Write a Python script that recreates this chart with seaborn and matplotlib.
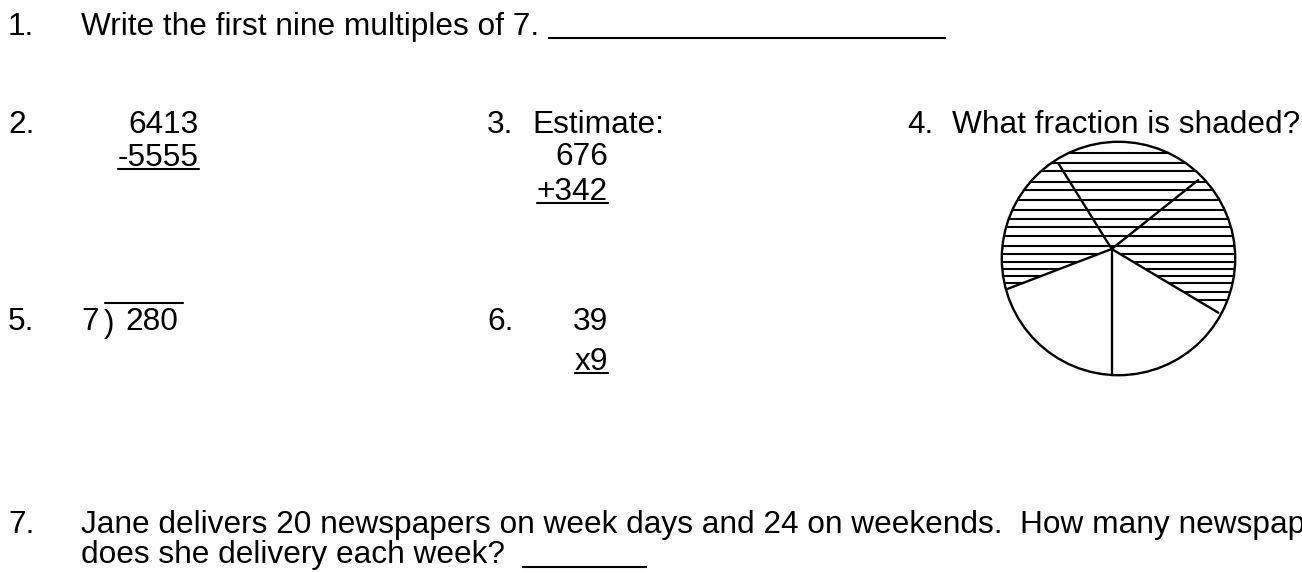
import numpy as np
import matplotlib.pyplot as plt
import seaborn as sns
from matplotlib.patches import Circle, Polygon

sns.set_theme(style="white")
plt.rcParams['font.family'] = ['Liberation Sans', 'DejaVu Sans']
plt.rcParams['text.color'] = 'black'

# page size in pixels (1 data unit = 1 px)
W, H = 1302, 572
FS = 22.8

# question numbers and where they sit (x, baseline)
q_nums = ["1.", "2.", "3.", "4.", "5.", "6.", "7."]
q_x = [8, 8, 487, 907, 8, 487, 8]
q_y = [35, 133, 133, 133, 330, 330, 533]

# plain prompt text
prompts = ["Write the first nine multiples of 7.", "Estimate:",
           "What fraction is shaded?",
           "Jane delivers 20 newspapers on week days and 24 on weekends.  How many newspapers",
           "does she delivery each week?"]
prompt_x = [81, 532, 952, 81, 81]
prompt_y = [35, 133, 133, 533, 563]

# answer blanks (x start, x end, y)
blank_x0 = [548, 522]
blank_x1 = [946, 647]
blank_y = [38, 567]

# column sums, right aligned; last row of each is underlined
sums = [["6413", "-5555"], ["676", "+342"], ["39", "x9"]]
sum_right = [199, 608, 608]
sum_base = [[133, 166], [165, 200], [330, 370]]

# long division 280 / 7
divisor, dividend = "7", "280"
div_x, bracket_x, dividend_x, div_y = 81, 104, 125, 330
bar_x0, bar_x1, bar_y = 105, 183, 303

# fraction circle
cx, cy, r = 1118.5, 258.5, 116.7
hub = (1111.7, 249.0)
spoke_ends = [(1058.3, 163.3), (1198.3, 180.0), (1218.3, 312.7), (1111.7, 375.0), (1007.3, 289.0)]
hatch_y = [153, 163, 171, 182, 190, 200, 210, 219, 227, 236, 246, 254, 262, 269, 276, 283, 292, 300]

fig = plt.figure(figsize=(W / 100, H / 100), dpi=100)
ax = fig.add_axes([0, 0, 1, 1])
ax.set_xlim(0, W)
ax.set_ylim(H, 0)
ax.axis('off')

for s, x, y in zip(q_nums, q_x, q_y):
    ax.text(x, y, s, fontsize=FS, va='baseline', ha='left')

for s, x, y in zip(prompts, prompt_x, prompt_y):
    ax.text(x, y, s, fontsize=FS, va='baseline', ha='left', clip_on=True)

ax.hlines(blank_y, blank_x0, blank_x1, color='black', lw=1.5)

# vertical sums
under = []
for rows, xr, ys in zip(sums, sum_right, sum_base):
    for i, (s, y) in enumerate(zip(rows, ys)):
        t = ax.text(xr, y, s, fontsize=FS, va='baseline', ha='right')
        if i == len(rows) - 1:
            under.append((t, y))

fig.canvas.draw()
inv = ax.transData.inverted()
for t, y in under:
    bb = t.get_window_extent()
    (x0, _), (x1, _) = inv.transform([(bb.x0, bb.y0), (bb.x1, bb.y1)])
    ax.plot([x0, x1], [y + 3, y + 3], color='black', lw=1.5)

# division
ax.text(div_x, div_y, divisor, fontsize=FS, va='baseline')
ax.text(bracket_x, div_y + 2, ")", fontsize=FS, va='baseline')
ax.text(dividend_x, div_y, dividend, fontsize=FS, va='baseline')
ax.plot([bar_x0, bar_x1], [bar_y, bar_y], color='black', lw=1.5)

# circle and shaded region
circ = Circle((cx, cy), r, fill=False, ec='black', lw=1.7)
ax.add_patch(circ)

def ang(p):
    return np.arctan2(p[1] - cy, p[0] - cx)

a_start = ang(spoke_ends[2])
a_end = ang(spoke_ends[4])
if a_end > a_start:
    a_end -= 2 * np.pi
arc = np.linspace(a_start, a_end, 120)
pts = [hub] + [(cx + r * np.cos(a), cy + r * np.sin(a)) for a in arc]
shade = Polygon(pts, closed=True, fill=False, lw=0)
ax.add_patch(shade)

for y in hatch_y:
    ln, = ax.plot([cx - r - 5, cx + r + 5], [y, y], color='black', lw=1.5)
    ln.set_clip_path(shade)

for p in spoke_ends:
    ax.plot([hub[0], p[0]], [hub[1], p[1]], color='black', lw=1.7)

fig.savefig('out.png', dpi=100)
